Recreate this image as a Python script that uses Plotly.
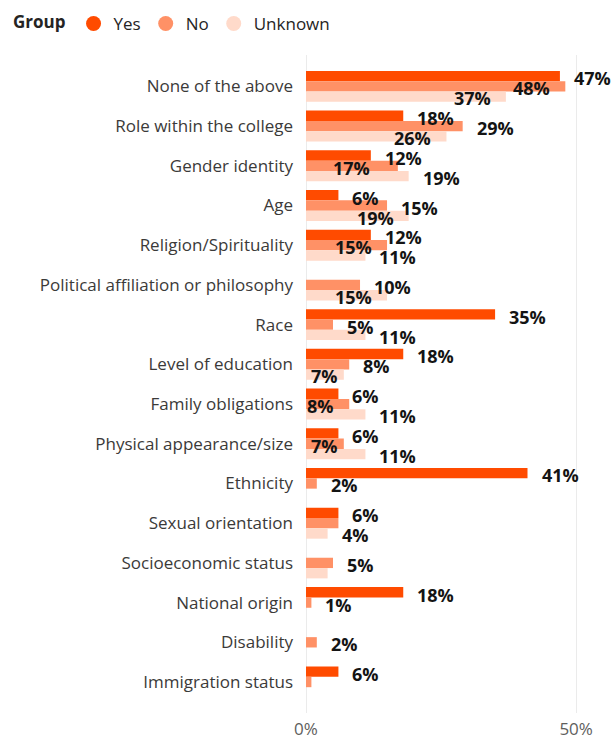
import plotly.graph_objects as go

# Reasons given for experienced treatment, by respondent group (percent)
categories = [
    "None of the above",
    "Role within the college",
    "Gender identity",
    "Age",
    "Religion/Spirituality",
    "Political affiliation or philosophy",
    "Race",
    "Level of education",
    "Family obligations",
    "Physical appearance/size",
    "Ethnicity",
    "Sexual orientation",
    "Socioeconomic status",
    "National origin",
    "Disability",
    "Immigration status",
]

yes_pct = [47, 18, 12, 6, 12, None, 35, 18, 6, 6, 41, 6, None, 18, None, 6]
no_pct = [48, 29, 17, 15, 15, 10, 5, 8, 8, 7, 2, 6, 5, 1, 2, 1]
unknown_pct = [37, 26, 19, 19, 11, 15, 11, 7, 11, 11, None, 4, 4, None, None, None]

x_tick_values = [0, 50]
x_tick_text = ["0%", "50%"]

series = [
    ("Yes", yes_pct, "#FF4B00"),
    ("No", no_pct, "#FF9166"),
    ("Unknown", unknown_pct, "#FFDACA"),
]

# Data label placement: "out" = right of the bar end, "in" = just left of it,
# "deep" = further inside to clear the label above, "near" = hugging the bar end,
# "" = label suppressed where it would collide with a neighbour.
label_place = {
    "Yes": ["out"] * 16,
    "No": ["in", "out", "deep", "out", "in", "out", "out", "out",
           "in", "near", "out", "", "out", "out", "out", ""],
    "Unknown": ["in", "in", "out", "in", "out", "in", "out", "near",
                "out", "out", "out", "out", "", "out", "out", "out"],
}
place_style = {
    "out": ("left", 12),
    "in": ("right", -13),
    "deep": ("right", -26),
    "near": ("right", -4),
}
# vertical offset of each series' label relative to the category centre (px, up = +)
label_lift = {"Yes": 8, "No": -2, "Unknown": -12}

FONT = "Open Sans, Noto Sans, DejaVu Sans, sans-serif"

fig = go.Figure()

for name, vals, color in series:
    fig.add_trace(go.Bar(
        name=name,
        y=categories,
        x=vals,
        orientation="h",
        marker=dict(color=color, line=dict(width=0)),
        showlegend=False,
        hoverinfo="skip",
    ))
    # circular legend swatch
    fig.add_trace(go.Scatter(
        name=name,
        x=[None], y=[None],
        mode="markers",
        marker=dict(color=color, size=15, symbol="circle"),
        showlegend=True,
    ))

annotations = []
for name, vals, _ in series:
    for cat, v, place in zip(categories, vals, label_place[name]):
        if v is None or not place:
            continue
        anchor, shift = place_style[place]
        annotations.append(dict(
            x=v, y=cat, xref="x", yref="y",
            text=f"{v}%",
            showarrow=False,
            xanchor=anchor,
            xshift=shift,
            yshift=label_lift[name],
            font=dict(family=FONT, size=18, color="#141414", weight="bold"),
        ))

fig.update_layout(
    width=613,
    height=739,
    margin=dict(l=306, r=5, t=55, b=26, autoexpand=False),
    paper_bgcolor="white",
    plot_bgcolor="white",
    barmode="group",
    bargap=0.22,
    bargroupgap=0,
    font=dict(family=FONT, size=17, color="#3b3a39"),
    annotations=annotations,
    legend=dict(
        orientation="h",
        xref="container", yref="container",
        x=0.018, y=0.992, xanchor="left", yanchor="top",
        title=dict(text="<b>Group</b>", font=dict(size=17, color="#252423")),
        font=dict(size=17, color="#252423"),
        itemwidth=30,
        tracegroupgap=0,
    ),
    xaxis=dict(
        range=[0, 55.9],
        tickmode="array",
        tickvals=x_tick_values,
        ticktext=x_tick_text,
        showgrid=True,
        gridcolor="#EBEBEB",
        gridwidth=1,
        zeroline=True,
        zerolinecolor="#EBEBEB",
        zerolinewidth=1,
        showline=False,
        ticks="",
        tickfont=dict(size=17, color="#605E5C"),
        ticklabelstandoff=4,
        automargin=False,
        fixedrange=True,
    ),
    yaxis=dict(
        categoryorder="array",
        categoryarray=categories,
        range=[15.78, -0.79],
        autorange=False,
        showgrid=False,
        zeroline=False,
        showline=False,
        ticks="",
        tickfont=dict(size=17, color="#3b3a39"),
        ticklabelstandoff=12,
        automargin=False,
        fixedrange=True,
    ),
)

fig.write_html("out.html")
